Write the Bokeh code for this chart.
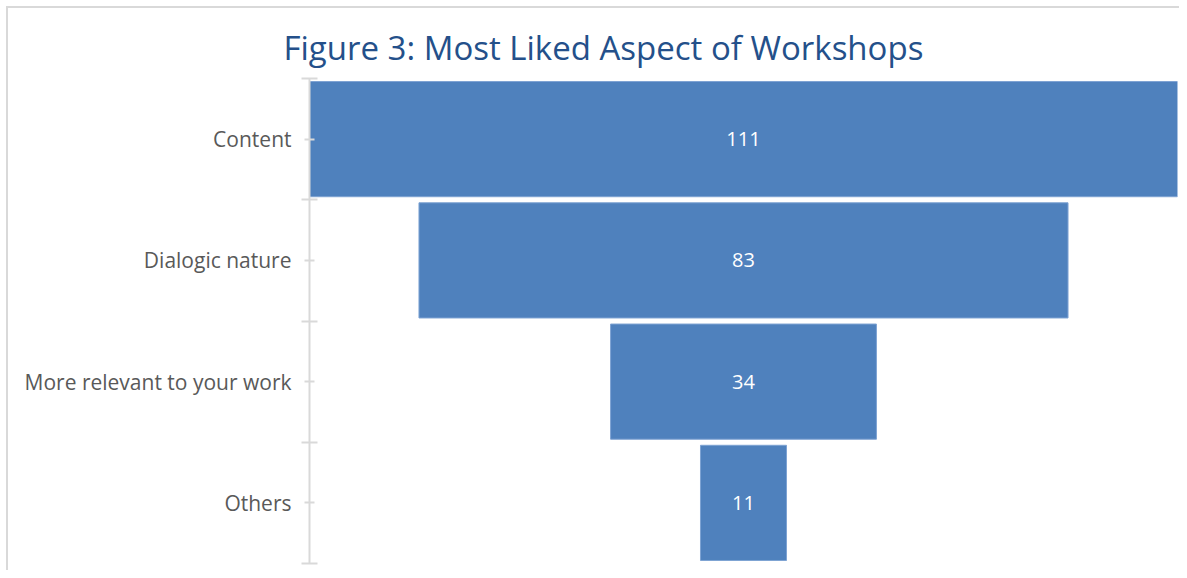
from bokeh.plotting import figure
from bokeh.models import Range1d, FixedTicker
from bokeh.core.properties import value
from bokeh.embed import file_html
from bokeh.resources import INLINE

categories = ["Content", "Dialogic nature", "More relevant to your work", "Others"]
counts = [111, 83, 34, 11]

n = len(categories)
ypos = [n - i - 0.5 for i in range(n)]
half = max(counts) / 2

p = figure(width=1179, height=570, output_backend="svg", toolbar_location=None,
           x_range=Range1d(-half, half), y_range=Range1d(0, n),
           min_border_left=309, min_border_right=2, min_border_top=78, min_border_bottom=7)
p.outline_line_color = None
p.grid.visible = False
p.xaxis.visible = False
p.border_fill_color = None
p.background_fill_color = None
p.styles = {
    "background": "linear-gradient(#d9d9d9,#d9d9d9) 6px 6px / 100% 2px no-repeat, "
                  "linear-gradient(#d9d9d9,#d9d9d9) 6px 6px / 2px 100% no-repeat, white",
}

left = [-c / 2 for c in counts]
right = [c / 2 for c in counts]
p.hbar(y=ypos, left=left, right=right, height=0.95, fill_color="#4f81bd",
       line_color="#7ea3d3", line_width=1)
p.text(x=[0] * n, y=ypos, text=[str(c) for c in counts], text_align="center",
       text_baseline="middle", text_color="white", text_font=value("Open Sans"),
       text_font_size="20px")

ax = p.yaxis[0]
ax.ticker = FixedTicker(ticks=ypos, minor_ticks=list(range(n + 1)))
ax.major_label_overrides = {y: c for y, c in zip(ypos, categories)}
ax.axis_line_color = "#d9d9d9"
ax.axis_line_width = 2
ax.major_tick_line_color = "#d9d9d9"
ax.major_tick_line_width = 2
ax.major_tick_in = 5
ax.major_tick_out = 5
ax.minor_tick_line_color = "#d9d9d9"
ax.minor_tick_line_width = 2
ax.minor_tick_in = 8
ax.minor_tick_out = 8
ax.major_label_text_font = "Open Sans"
ax.major_label_text_font_size = "21px"
ax.major_label_text_color = "#595959"
ax.major_label_standoff = 10

p.title.text = "Figure 3: Most Liked Aspect of Workshops"
p.title.align = "left"
p.title.offset = -26
p.title.text_font = "Open Sans"
p.title.text_font_size = "33px"
p.title.text_font_style = "normal"
p.title.text_color = "#24508a"
p.title.standoff = 18

open("out.html", "w").write(file_html(p, INLINE))
